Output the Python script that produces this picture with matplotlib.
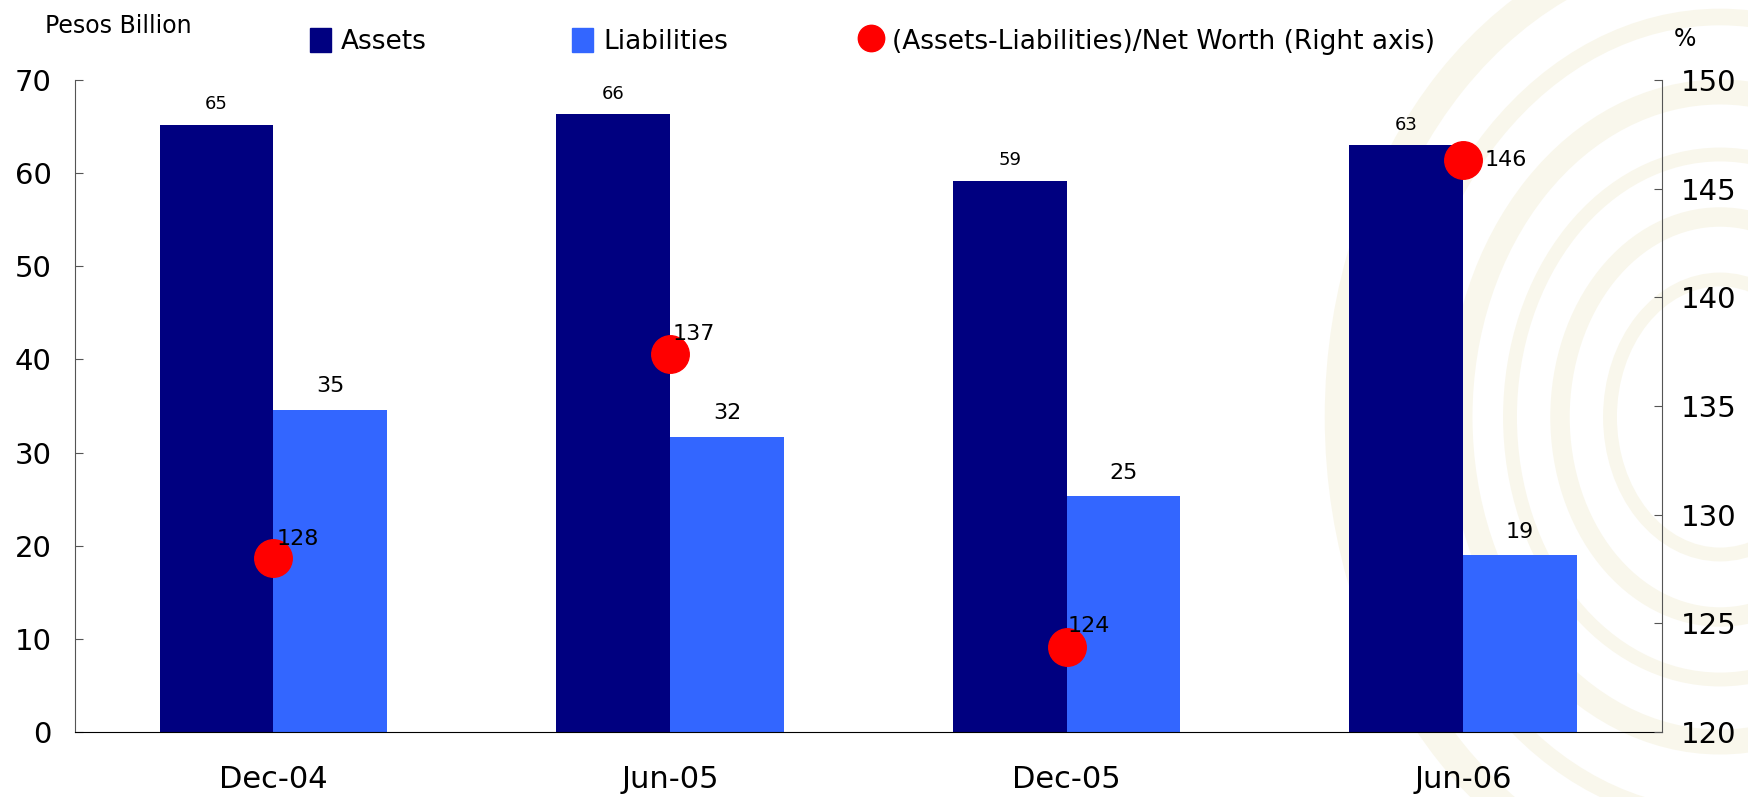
import matplotlib.pyplot as plt
from matplotlib.patches import Patch, Ellipse
from matplotlib.lines import Line2D
import numpy as np

periods = ['Dec-04', 'Jun-05', 'Dec-05', 'Jun-06']
assets = [65.2, 66.3, 59.2, 63.0]
liabilities = [34.6, 31.7, 25.3, 19.0]
ratio = [128.0, 137.4, 123.9, 146.3]

navy = '#000080'
blue = '#3366ff'
red = '#ff0000'

fig = plt.figure(figsize=(17.49, 7.97), dpi=100)
fig.patch.set_facecolor('white')

# faint seal behind the chart, right side
bg = fig.add_axes([0, 0, 1, 1], zorder=-10)
bg.set_xlim(0, 1749)
bg.set_ylim(0, 797)
bg.axis('off')
for r, lw in [(760, 22), (640, 12), (520, 18), (420, 10), (320, 14), (220, 10)]:
    bg.add_patch(Ellipse((1720, 380), r, r * 1.25, fill=False,
                         edgecolor='#f1ecd0', lw=lw, alpha=0.4))

ax = fig.add_axes([0.043, 0.0816, 0.907, 0.818])
ax.set_facecolor('none')
x = np.arange(len(periods))
w = 0.287

ax.bar(x - w / 2, assets, w, color=navy, zorder=2)
ax.bar(x + w / 2, liabilities, w, color=blue, zorder=2)

for xi, v in zip(x, assets):
    ax.text(xi - w / 2, v + 2.2, f'{v:.0f}', ha='center', va='center', fontsize=13)
for xi, v in zip(x, liabilities):
    ax.text(xi + w / 2, v + 2.5, f'{v:.0f}', ha='center', va='center', fontsize=16)

ax.set_xlim(-0.5, 3.5)
ax.set_ylim(0, 70)
ax.set_yticks(range(0, 71, 10))
ax.set_xticks(x)
ax.set_xticklabels(periods, fontsize=22)
ax.tick_params(axis='x', length=0, pad=24)
ax.tick_params(axis='y', direction='in', length=6, labelsize=21, color='#555555', pad=17)
ax.spines['top'].set_visible(False)
ax.spines['right'].set_visible(False)
ax.spines['left'].set_color('#555555')

ax2 = ax.twinx()
ax2.set_ylim(120, 150)
ax2.set_yticks(range(120, 151, 5))
ax2.tick_params(axis='y', direction='in', length=6, labelsize=21, color='#555555', pad=14)
for s in ['top', 'left', 'bottom']:
    ax2.spines[s].set_visible(False)
ax2.spines['right'].set_color('#555555')
ax2.plot(x, ratio, 'o', color=red, markersize=27, zorder=3)

offsets = [(2, 14), (2, 14), (1, 15), (15, 0)]
for xi, v, off in zip(x, ratio, offsets):
    ax2.annotate(f'{v:.0f}', (xi, v), xytext=off, textcoords='offset points',
                 ha='left', va='center', fontsize=16)

fig.text(0.026, 0.968, 'Pesos Billion', fontsize=17, va='center')
fig.text(0.957, 0.951, '%', fontsize=17, va='center')

# legend entries placed one by one
entries = [
    (Patch(color=navy), 'Assets', 0.177),
    (Patch(color=blue), 'Liabilities', 0.327),
    (Line2D([], [], marker='o', color=red, lw=0, markersize=19),
     '(Assets-Liabilities)/Net Worth (Right axis)', 0.492),
]
for h, lab, xpos in entries:
    fig.legend([h], [lab], loc='center left', bbox_to_anchor=(xpos, 0.948),
               frameon=False, fontsize=19, handlelength=0.8, handleheight=1.0,
               handletextpad=0.4, borderpad=0, borderaxespad=0)

fig.savefig('out.png', dpi=100)
